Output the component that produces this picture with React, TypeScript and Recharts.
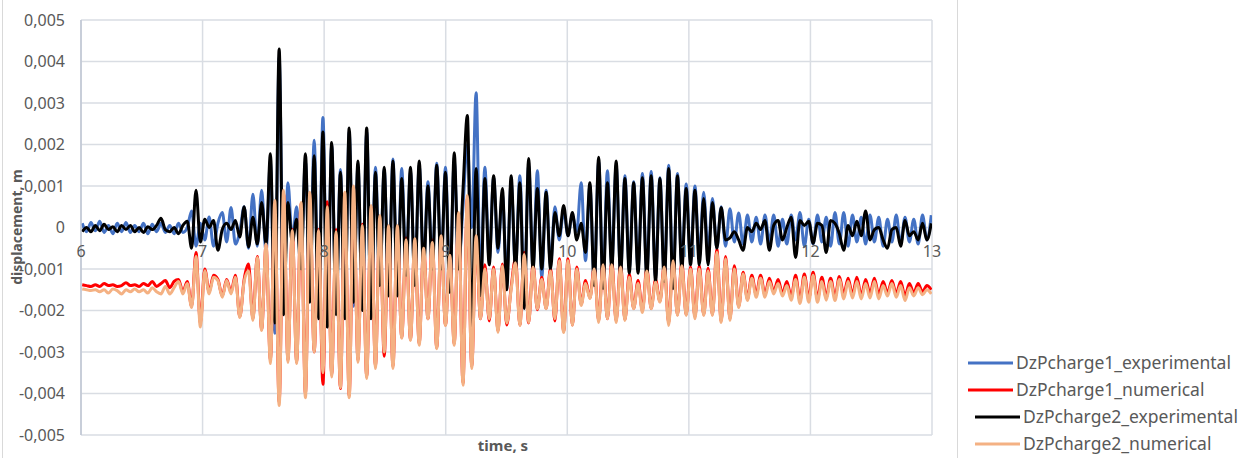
import React from 'react';
import { LineChart, Line, XAxis, YAxis, CartesianGrid } from 'recharts';

// Sampling of the recorded signals (seconds)
const SAMPLE_START_S = 6.01;
const SAMPLE_STEP_S = 0.036;

// Displacements, in millimetres (converted to metres below)
const dzPcharge1ExperimentalMm = [
  0.10, -0.10, 0.12, -0.08, 0.15, -0.12, 0.05, -0.15, 0.10, -0.10,
  0.12, -0.12, 0.05, -0.10, 0.10, -0.15, 0.08, -0.10, 0.10, -0.12,
  0.05, -0.15, 0.10, -0.12, 0.00, 0.40, -0.45, 0.10, -0.30, 0.25,
  -0.45, 0.10, 0.36, -0.35, 0.48, -0.40, -0.10, 0.50, -0.50, 0.80,
  -0.45, 0.90, -0.60, 1.60, -2.55, 4.10, -2.00, 1.08, -0.30, 0.50,
  -0.90, 1.60, -1.60, 2.10, -2.00, 2.65, -2.20, 2.00, -2.00, 1.40,
  -2.10, 2.30, -1.90, 1.50, -1.90, 2.30, -2.00, 1.45, -1.30, 1.40,
  -1.50, 1.65, -1.50, 1.42, -1.00, 1.35, -1.30, 1.50, -0.90, 1.10,
  -0.90, 1.55, -0.90, 1.45, -1.40, 1.60, -0.90, 0.50, 2.00, 0.00,
  3.25, -1.40, 1.45, -0.80, 1.20, -0.60, 0.80, -1.20, 1.10, -1.00,
  1.25, -1.60, 1.50, -1.00, 1.37, -1.20, 0.90, -0.90, 0.50, -0.30,
  0.40, -0.20, 0.30, -0.10, 1.08, -0.80, 1.00, -1.30, 1.60, -1.30,
  1.37, -0.90, 1.50, -1.10, 1.25, -1.00, 1.10, -1.00, 1.30, -1.10,
  1.35, -1.20, 1.20, -1.20, 1.50, -1.30, 1.30, -0.90, 1.05, -0.80,
  1.00, -0.70, 0.85, -0.60, 0.70, -0.50, 0.50, -0.45, 0.45, -0.35,
  0.35, -0.40, 0.30, -0.35, 0.25, -0.40, 0.30, -0.35, 0.30, -0.45,
  0.20, -0.40, 0.30, -0.30, 0.36, -0.45, 0.20, -0.40, 0.30, -0.35,
  0.25, -0.45, 0.36, -0.40, 0.36, -0.45, 0.30, -0.35, 0.25, -0.40,
  0.30, -0.35, 0.25, -0.45, 0.20, -0.35, 0.30, -0.40, 0.25, -0.35,
  0.20, -0.40, 0.30, -0.30, 0.30,
];

const dzPcharge1NumericalMm = [
  -1.38, -1.40, -1.42, -1.38, -1.42, -1.35, -1.40, -1.38, -1.42, -1.40,
  -1.33, -1.40, -1.38, -1.42, -1.35, -1.40, -1.30, -1.42, -1.35, -1.28,
  -1.45, -1.30, -1.25, -1.55, -1.30, -1.90, -0.60, -2.30, -1.00, -1.55,
  -1.15, -1.25, -1.65, -1.25, -1.55, -1.15, -2.15, -1.25, -0.88, -2.20,
  -0.70, -2.45, -0.42, -3.20, 0.60, -4.20, 0.85, -3.20, -0.05, -3.25,
  0.58, -4.00, 0.80, -3.00, -0.05, -3.78, 0.62, -3.55, -0.05, -3.88,
  0.80, -4.05, 0.95, -3.20, 0.08, -3.60, 0.50, -3.35, 0.25, -3.10,
  0.02, -3.35, 0.00, -2.65, -0.25, -2.70, -0.30, -2.80, -0.45, -2.20,
  -0.30, -2.90, -0.25, -2.35, -0.60, -2.80, 0.30, -3.75, 0.70, -3.35,
  -0.25, -2.20, -0.90, -2.25, -0.95, -2.50, -0.88, -2.35, -1.45, -0.75,
  -2.35, -0.60, -2.30, -0.88, -1.98, -1.20, -1.95, -0.98, -2.25, -0.75,
  -2.50, -0.75, -2.35, -0.95, -1.85, -1.28, -1.70, -0.95, -2.25, -0.82,
  -2.20, -0.82, -2.25, -0.88, -2.22, -1.12, -1.95, -1.28, -2.00, -0.98,
  -1.95, -1.25, -1.78, -0.90, -2.30, -0.75, -2.10, -0.85, -2.10, -0.95,
  -2.15, -0.92, -2.10, -0.98, -2.10, -0.52, -2.25, -0.70, -2.20, -0.92,
  -1.90, -1.08, -1.72, -1.15, -1.62, -1.15, -1.62, -1.22, -1.55, -1.25,
  -1.60, -1.30, -1.68, -1.15, -1.75, -1.12, -1.72, -1.08, -1.72, -1.20,
  -1.68, -1.22, -1.68, -1.18, -1.62, -1.22, -1.62, -1.20, -1.65, -1.25,
  -1.60, -1.22, -1.62, -1.30, -1.58, -1.28, -1.60, -1.30, -1.65, -1.35,
  -1.58, -1.35, -1.55, -1.40, -1.50,
];

const dzPcharge2ExperimentalMm = [
  -0.10, 0.00, -0.10, 0.05, -0.08, 0.08, -0.05, 0.02, -0.10, 0.05,
  -0.05, 0.05, -0.10, 0.00, -0.12, 0.02, -0.05, 0.05, 0.22, -0.05,
  -0.10, 0.00, -0.15, 0.05, 0.15, -0.50, 0.90, -0.35, 0.20, 0.00,
  0.17, -0.55, -0.05, 0.10, -0.05, 0.17, -0.23, 0.50, -0.47, 0.25,
  -0.40, 0.60, -0.40, 1.78, -2.30, 4.30, -2.10, 0.60, -0.36, 0.20,
  -1.00, 1.78, -1.80, 1.73, -2.20, 2.30, -2.40, 2.05, -2.10, 1.33,
  -2.20, 2.40, -1.80, 1.60, -2.00, 2.40, -2.20, 1.33, -1.40, 1.45,
  -1.65, 1.60, -1.65, 1.18, -1.15, 1.45, -1.40, 1.60, -1.00, 1.00,
  -1.00, 1.50, -1.00, 1.33, -1.56, 1.80, -1.00, 0.90, 2.70, -2.50,
  1.42, -1.64, 1.18, -0.90, 1.25, -0.50, 0.94, -1.50, 1.25, -1.00,
  1.08, -1.95, 1.66, -1.00, 0.94, -1.00, 0.85, -1.00, 0.36, -0.20,
  0.53, -0.20, 0.36, -0.30, 0.10, -0.60, 1.08, -1.40, 1.69, -1.47,
  1.08, -1.00, 1.60, -1.15, 1.18, -1.10, 1.08, -1.10, 1.20, -1.20,
  1.25, -1.30, 1.18, -1.30, 1.42, -1.47, 1.25, -1.00, 0.94, -0.90,
  0.90, -0.90, 0.70, -0.90, 0.60, -0.50, 0.48, -0.30, -0.25, -0.10,
  -0.30, -0.55, 0.00, -0.10, 0.10, -0.05, 0.17, -0.55, 0.05, 0.17,
  -0.30, 0.00, 0.25, -0.72, 0.17, 0.05, 0.15, -0.38, 0.10, 0.05,
  -0.60, 0.17, 0.10, -0.15, -0.55, 0.05, -0.20, 0.15, -0.20, 0.40,
  -0.30, -0.05, 0.00, -0.30, -0.50, -0.05, 0.00, -0.45, 0.17, -0.20,
  -0.10, -0.30, 0.10, -0.30, 0.10,
];

const dzPcharge2NumericalMm = [
  -1.48, -1.50, -1.52, -1.50, -1.55, -1.50, -1.58, -1.48, -1.52, -1.60,
  -1.50, -1.55, -1.48, -1.55, -1.50, -1.58, -1.45, -1.55, -1.60, -1.42,
  -1.60, -1.45, -1.30, -1.60, -1.35, -1.93, -0.70, -2.40, -1.04, -1.60,
  -1.20, -1.28, -1.68, -1.28, -1.60, -1.20, -2.17, -1.30, -1.05, -2.24,
  -0.72, -2.48, -0.40, -3.28, 0.65, -4.29, 0.90, -3.25, -0.07, -3.28,
  0.60, -4.10, 0.85, -3.00, -0.07, -3.50, 0.50, -3.60, -0.10, -3.86,
  0.85, -4.10, 1.00, -3.25, 0.05, -3.64, 0.53, -3.40, 0.29, -3.00,
  0.05, -3.40, 0.05, -2.67, -0.30, -2.72, -0.27, -2.84, -0.50, -2.20,
  -0.36, -2.92, -0.20, -2.36, -0.67, -2.84, 0.36, -3.80, 0.77, -3.40,
  -0.20, -2.20, -1.00, -2.20, -1.00, -2.53, -0.92, -2.30, -1.50, -0.85,
  -2.36, -0.65, -2.29, -0.95, -1.96, -1.25, -1.96, -1.05, -2.20, -0.80,
  -2.53, -0.80, -2.36, -1.00, -1.88, -1.35, -1.71, -1.00, -2.29, -0.90,
  -2.20, -0.90, -2.29, -0.95, -2.24, -1.20, -1.96, -1.35, -2.05, -1.05,
  -1.96, -1.32, -1.80, -0.95, -2.36, -0.80, -2.12, -0.92, -2.12, -1.00,
  -2.20, -1.00, -2.12, -1.05, -2.12, -0.60, -2.29, -0.75, -2.24, -1.00,
  -1.93, -1.12, -1.76, -1.22, -1.68, -1.22, -1.68, -1.30, -1.60, -1.35,
  -1.65, -1.40, -1.75, -1.25, -1.83, -1.20, -1.80, -1.15, -1.80, -1.30,
  -1.75, -1.30, -1.76, -1.25, -1.72, -1.30, -1.70, -1.30, -1.72, -1.35,
  -1.70, -1.30, -1.72, -1.40, -1.65, -1.35, -1.68, -1.40, -1.76, -1.45,
  -1.65, -1.45, -1.62, -1.50, -1.60,
];

const X_TICKS = [6, 7, 8, 9, 10, 11, 12, 13];
const Y_TICKS = [-0.005, -0.004, -0.003, -0.002, -0.001, 0, 0.001, 0.002, 0.003, 0.004, 0.005];
const X_TITLE = 'time, s';
const Y_TITLE = 'displacement, m';

const SERIES = [
  { key: 'c1exp', name: 'DzPcharge1_experimental', color: '#4472C4', values: dzPcharge1ExperimentalMm },
  { key: 'c1num', name: 'DzPcharge1_numerical', color: '#FF0000', values: dzPcharge1NumericalMm },
  { key: 'c2exp', name: 'DzPcharge2_experimental', color: '#000000', values: dzPcharge2ExperimentalMm },
  { key: 'c2num', name: 'DzPcharge2_numerical', color: '#F4B183', values: dzPcharge2NumericalMm },
];

const rows = dzPcharge1ExperimentalMm.map((_, i) => {
  const row: Record<string, number> = {
    t: Math.round((SAMPLE_START_S + i * SAMPLE_STEP_S) * 10000) / 10000,
  };
  SERIES.forEach((s) => {
    row[s.key] = s.values[i] / 1000;
  });
  return row;
});

const FONT = '"Noto Sans", "Open Sans", sans-serif';
const TEXT_COLOR = '#595959';
const GRID_COLOR = '#D9DDE3';

const fmtY = (v: number) => (Math.abs(v) < 1e-9 ? '0' : v.toFixed(3).replace('.', ','));

// x tick labels sit just under the zero line, as in the original spreadsheet chart
const renderXTick = (props: any) => {
  const { x, payload } = props;
  return (
    <text x={x} y={257} textAnchor="middle" fill={TEXT_COLOR} fontSize={16} fontFamily={FONT}>
      {payload.value}
    </text>
  );
};

export default function App() {
  return (
    <div
      style={{
        position: 'absolute',
        left: 0,
        top: 0,
        width: 1250,
        height: 458,
        background: '#ffffff',
        fontFamily: FONT,
        overflow: 'hidden',
      }}
    >
      <div style={{ position: 'absolute', left: 2, top: 0, width: 1, height: 458, background: '#D9D9D9' }} />
      <div style={{ position: 'absolute', left: 957, top: 0, width: 1, height: 458, background: '#D9D9D9' }} />
      <LineChart width={1250} height={458} data={rows} margin={{ top: 20, right: 318, bottom: 20, left: 0 }}>
        <CartesianGrid stroke={GRID_COLOR} strokeWidth={1.5} />
        <XAxis
          type="number"
          dataKey="t"
          domain={[6, 13]}
          ticks={X_TICKS}
          interval={0}
          height={3}
          axisLine={false}
          tickLine={false}
          tick={renderXTick}
          allowDataOverflow
        />
        <YAxis
          type="number"
          domain={[-0.005, 0.005]}
          ticks={Y_TICKS}
          interval={0}
          width={81}
          axisLine={{ stroke: '#BFC6D3', strokeWidth: 1.5 }}
          tickLine={false}
          tickSize={0}
          tickMargin={16}
          tickFormatter={fmtY}
          tick={{ fill: TEXT_COLOR, fontSize: 16, fontFamily: FONT }}
          allowDataOverflow
        />
        {SERIES.map((s) => (
          <Line
            key={s.key}
            type="monotone"
            dataKey={s.key}
            name={s.name}
            stroke={s.color}
            strokeWidth={3}
            dot={false}
            activeDot={false}
            isAnimationActive={false}
          />
        ))}
      </LineChart>
      <svg
        width={1250}
        height={458}
        style={{ position: 'absolute', left: 0, top: 0, pointerEvents: 'none' }}
      >
        <text
          x={0}
          y={0}
          transform="translate(22,227) rotate(-90)"
          textAnchor="middle"
          fill={TEXT_COLOR}
          fontSize={14}
          fontWeight="bold"
          fontFamily={FONT}
        >
          {Y_TITLE}
        </text>
        <text x={503} y={451} textAnchor="middle" fill={TEXT_COLOR} fontSize={15} fontWeight="bold" fontFamily={FONT}>
          {X_TITLE}
        </text>
        {SERIES.map((s, i) => {
          const indent = i >= 2 ? 7 : 0;
          const cy = 363 + i * 27;
          return (
            <g key={s.key}>
              <line x1={968 + indent} x2={1013 + indent} y1={cy} y2={cy} stroke={s.color} strokeWidth={3} />
              <text
                x={1016 + indent}
                y={cy + 6}
                fill={TEXT_COLOR}
                fontSize={17.5}
                fontFamily={FONT}
              >
                {s.name}
              </text>
            </g>
          );
        })}
      </svg>
    </div>
  );
}
